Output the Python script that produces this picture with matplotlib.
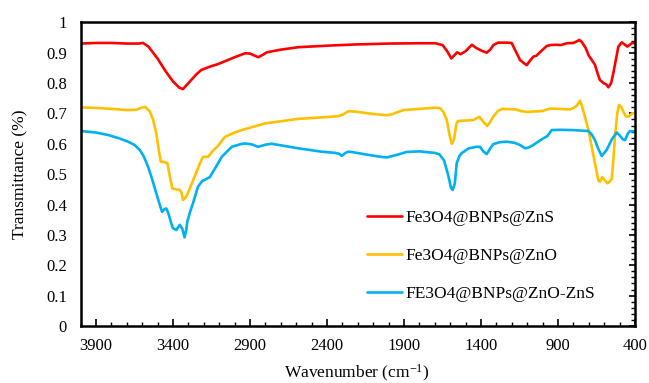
import matplotlib
matplotlib.use("Agg")
import matplotlib.pyplot as plt
from matplotlib.ticker import MultipleLocator, FuncFormatter

# ---- data ----
wn_zns = [4000, 3900, 3800, 3700, 3620, 3595, 3560, 3500, 3450, 3400, 3360, 3336, 3300, 3250,
          3217, 3150, 3110, 3000, 2933, 2900, 2847, 2810, 2792, 2700, 2587, 2400, 2218, 2000,
          1800, 1697, 1650, 1620, 1593, 1570, 1555, 1532, 1500, 1459, 1430, 1390, 1363, 1340,
          1320, 1290, 1230, 1201, 1175, 1147, 1120, 1103, 1080, 1060, 1040, 1010, 973, 950,
          920, 880, 844, 800, 775, 762, 745, 720, 700, 681, 660, 645, 628, 605, 585, 573, 555,
          541, 525, 508, 486, 470, 450, 421, 400]
t_zns = [0.930, 0.932, 0.932, 0.930, 0.930, 0.932, 0.920, 0.880, 0.840, 0.805, 0.785, 0.780,
         0.800, 0.828, 0.843, 0.856, 0.862, 0.885, 0.898, 0.897, 0.885, 0.895, 0.901, 0.910,
         0.918, 0.923, 0.927, 0.930, 0.931, 0.931, 0.925, 0.905, 0.881, 0.893, 0.901, 0.895,
         0.905, 0.926, 0.915, 0.905, 0.900, 0.910, 0.925, 0.933, 0.933, 0.932, 0.905, 0.876,
         0.865, 0.859, 0.875, 0.887, 0.890, 0.905, 0.922, 0.925, 0.926, 0.925, 0.931, 0.932,
         0.938, 0.942, 0.935, 0.915, 0.890, 0.876, 0.860, 0.835, 0.810, 0.800, 0.795, 0.786,
         0.800, 0.832, 0.875, 0.920, 0.934, 0.928, 0.920, 0.931, 0.932]

wn_zno = [4000, 3900, 3800, 3700, 3640, 3600, 3580, 3552, 3530, 3509, 3490, 3480, 3460, 3437,
          3420, 3405, 3380, 3357, 3345, 3336, 3314, 3290, 3260, 3230, 3206, 3173, 3140, 3110,
          3063, 3000, 2955, 2803, 2587, 2400, 2327, 2294, 2262, 2218, 2100, 2013, 1980, 1904,
          1800, 1697, 1666, 1645, 1623, 1605, 1590, 1575, 1560, 1550, 1480, 1450, 1411, 1385,
          1360, 1340, 1320, 1290, 1262, 1175, 1142, 1100, 1000, 952, 900, 820, 800, 781, 765,
          757, 745, 725, 700, 677, 660, 638, 628, 612, 600, 580, 565, 551, 540, 530, 515, 504,
          490, 475, 460, 440, 420, 400]
t_zno = [0.720, 0.718, 0.715, 0.711, 0.712, 0.720, 0.721, 0.707, 0.680, 0.634, 0.570, 0.541,
         0.540, 0.537, 0.490, 0.453, 0.450, 0.448, 0.440, 0.415, 0.426, 0.455, 0.492, 0.530,
         0.557, 0.557, 0.578, 0.592, 0.623, 0.637, 0.645, 0.667, 0.682, 0.688, 0.691, 0.697,
         0.707, 0.706, 0.698, 0.694, 0.697, 0.711, 0.715, 0.719, 0.717, 0.705, 0.680, 0.630,
         0.600, 0.615, 0.665, 0.675, 0.677, 0.678, 0.689, 0.672, 0.659, 0.672, 0.690, 0.708,
         0.715, 0.713, 0.708, 0.705, 0.708, 0.716, 0.715, 0.713, 0.718, 0.724, 0.735, 0.742,
         0.725, 0.689, 0.640, 0.580, 0.535, 0.480, 0.475, 0.490, 0.482, 0.470, 0.475, 0.485,
         0.550, 0.625, 0.700, 0.728, 0.722, 0.705, 0.690, 0.690, 0.700, 0.701]

wn_mix = [4000, 3900, 3823, 3750, 3693, 3650, 3617, 3590, 3563, 3540, 3509, 3490, 3472, 3455,
          3444, 3430, 3410, 3401, 3379, 3357, 3340, 3330, 3325, 3315, 3308, 3290, 3271, 3238,
          3210, 3195, 3162, 3120, 3084, 3019, 2960, 2933, 2890, 2847, 2800, 2760, 2700, 2587,
          2435, 2348, 2320, 2305, 2280, 2262, 2240, 2150, 2050, 2013, 1950, 1883, 1800, 1700,
          1670, 1640, 1615, 1595, 1584, 1570, 1558, 1540, 1526, 1480, 1430, 1407, 1385, 1363,
          1340, 1320, 1280, 1233, 1180, 1147, 1114, 1090, 1060, 1020, 995, 970, 941, 880, 800,
          703, 680, 660, 640, 616, 600, 584, 550, 519, 500, 480, 465, 445, 432, 400]
t_mix = [0.642, 0.637, 0.629, 0.618, 0.607, 0.596, 0.580, 0.558, 0.525, 0.490, 0.437, 0.405,
         0.376, 0.385, 0.387, 0.370, 0.335, 0.322, 0.316, 0.333, 0.320, 0.300, 0.292, 0.315,
         0.343, 0.375, 0.404, 0.459, 0.478, 0.481, 0.490, 0.525, 0.557, 0.590, 0.599, 0.601,
         0.598, 0.590, 0.597, 0.600, 0.595, 0.585, 0.574, 0.570, 0.567, 0.560, 0.570, 0.574,
         0.573, 0.565, 0.557, 0.555, 0.563, 0.573, 0.575, 0.570, 0.565, 0.545, 0.500, 0.455,
         0.448, 0.470, 0.536, 0.560, 0.569, 0.585, 0.590, 0.590, 0.575, 0.566, 0.585, 0.599,
         0.605, 0.607, 0.603, 0.596, 0.585, 0.588, 0.596, 0.610, 0.618, 0.625, 0.645, 0.646,
         0.645, 0.642, 0.630, 0.612, 0.585, 0.560, 0.570, 0.580, 0.615, 0.637, 0.628, 0.615,
         0.612, 0.635, 0.642, 0.640]

labels = ["Fe3O4@BNPs@ZnS", "Fe3O4@BNPs@ZnO", "FE3O4@BNPs@ZnO-ZnS"]
colors = ["#FF0000", "#FFC000", "#00B0F0"]
x_ticks = [3900, 3400, 2900, 2400, 1900, 1400, 900, 400]
y_ticks = [0, 0.1, 0.2, 0.3, 0.4, 0.5, 0.6, 0.7, 0.8, 0.9, 1.0]

plt.rcParams['font.family'] = ['Liberation Serif', 'DejaVu Serif']
plt.rcParams['mathtext.fontset'] = 'custom'
plt.rcParams['mathtext.rm'] = 'Liberation Serif'
plt.rcParams['mathtext.it'] = 'Liberation Serif:italic'
plt.rcParams['mathtext.bf'] = 'Liberation Serif:bold'

fig = plt.figure(figsize=(6.49, 3.83), dpi=100)
W, H = 649, 383
L, R, T, B = 80.7, 635, 22.3, 326
ax = fig.add_axes([L / W, 1 - B / H, (R - L) / W, (B - T) / H])

for wn, t, lab, c in zip([wn_zns, wn_zno, wn_mix], [t_zns, t_zno, t_mix], labels, colors):
    ax.plot(wn, t, color=c, lw=1.9, label=lab, solid_joinstyle='round', solid_capstyle='round')

ax.set_xlim(4000, 400)
ax.set_ylim(0, 1)
ax.set_xticks(x_ticks)
ax.xaxis.set_minor_locator(MultipleLocator(100))
ax.set_yticks(y_ticks)
ax.yaxis.set_minor_locator(MultipleLocator(0.02))
ax.yaxis.set_major_formatter(FuncFormatter(lambda v, p: ("%g" % round(v, 2))))

ax.tick_params(axis='x', which='major', direction='in', length=5, width=1.2, labelsize=12, pad=9)
ax.tick_params(axis='x', which='minor', direction='in', length=3, width=1.0)
ax.tick_params(axis='y', which='both', left=False, right=True, direction='in', labelsize=12, pad=10)
ax.tick_params(axis='y', which='major', length=4, width=1.2)
ax.tick_params(axis='y', which='minor', length=3, width=1.0)

for s in ax.spines.values():
    s.set_linewidth(1.8)
    s.set_color('black')

fig.text(357 / W, 1 - 373 / H, r"Wavenumber (cm$^{\mathregular{-1}}$)", ha='center', va='center',
         fontsize=12.5)
fig.text(20 / W, 1 - 174 / H, "Transmittance (%)", ha='center', va='center', rotation=90, fontsize=12.5)

fig.legend(loc='center left', bbox_to_anchor=(367 / W, 1 - 256 / H), frameon=False,
           fontsize=12.5, handlelength=2.0, handletextpad=0.2, labelspacing=1.25,
           borderpad=0, borderaxespad=0)

fig.savefig("out.png", dpi=100)
